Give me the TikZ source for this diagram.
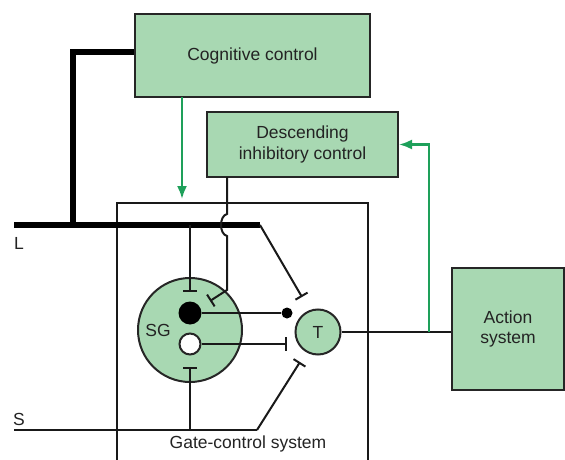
\documentclass[tikz,border=0pt]{standalone}
\usepackage{fontspec}
\setmainfont{Liberation Sans}
\usetikzlibrary{arrows.meta}
\definecolor{boxgreen}{RGB}{168,216,178}
\definecolor{arrgreen}{RGB}{30,160,90}
\definecolor{txt}{RGB}{35,35,35}
\begin{document}
\begin{tikzpicture}[x=1pt,y=-1pt,
  font=\fontsize{17.5}{20.5}\selectfont, text=txt,
  box/.style={draw=black!85, line width=2pt, fill=boxgreen, align=center, inner sep=0pt},
  wire/.style={line width=2pt, draw=black!90},
  inh/.style={-{Bar[width=14pt,line width=2pt]}},
  garrow/.style={draw=arrgreen, line width=2.2pt, -{Latex[length=13pt,width=10pt]}}]
\useasboundingbox (0,0) rectangle (565,460);
\fill[white] (0,0) rectangle (565,460);

% boxes
\node[box, minimum width=235pt, minimum height=83pt] (cog) at (252.5,55.5) {Cognitive control};
\node[box, minimum width=191pt, minimum height=65pt] (desc) at (302.5,144.5) {Descending\\inhibitory control};
\node[box, minimum width=112pt, minimum height=122pt] (act) at (508,329) {Action\\system};

% gate-control box
\coordinate (gbl) at (117,461);
\coordinate (gtl) at (117,203);
\coordinate (gtr) at (368,203);
\coordinate (gbr) at (368,461);
\draw[wire] (gbl) -- (gtl) -- (gtr) -- (gbr);
\node (gatelbl) at (248,444) {Gate-control system};

% circles
\node[circle, draw=black!85, fill=boxgreen, line width=2pt, minimum size=104pt, inner sep=0pt] (sg) at (190,330) {};
\node (sglbl) at (158,330) {SG};
\node[circle, fill=black, minimum size=23pt, inner sep=0pt] (bdot) at (190,313) {};
\node[circle, draw=black!85, fill=white, line width=2pt, minimum size=21pt, inner sep=0pt] (wdot) at (190,344) {};
\node[circle, fill=black, minimum size=11pt, inner sep=0pt] (sdot) at (287,313) {};
\node[circle, draw=black!85, fill=boxgreen, line width=2pt, minimum size=45pt, inner sep=0pt] (t) at (318,332) {T};

% L fibre
\coordinate (Lstart) at (14,225);
\coordinate (Lend) at (260,225);
\coordinate (Lv) at (73,225);
\draw[line width=6.5pt] (Lstart) -- (Lend);
\draw[line width=6.5pt] ([yshift=3.5pt]cog.west) -| (Lv);
\node (Llbl) at (19,243) {L};

% S fibre
\coordinate (Sstart) at (14,430);
\coordinate (Send) at (257,430);
\coordinate (Ssg) at (190,430);
\node (Slbl) at (19,419) {S};
\draw[wire] (Sstart) -- (Send);

% inhibitory connections
\coordinate (Lsg) at (190,225);
\coordinate (barLsg) at (190,292);
\draw[wire, inh] (Lsg) -- (barLsg);
\coordinate (barLt) at (302,297);
\draw[wire, inh] (Lend) -- (barLt);
\coordinate (barSsg) at (190,367);
\draw[wire, inh] (Ssg) -- (barSsg);
\coordinate (barSt) at (300,362);
\draw[wire, inh] (Send) -- (barSt);
\coordinate (barW) at (287,344);
\draw[wire, inh] (wdot) -- (barW);
\draw[wire] (bdot) -- (sdot);

% descending line with hop
\coordinate (d0) at (227,177);
\coordinate (barD) at (210,301);
\draw[wire, inh] (d0) -- (227,214) .. controls (219,216) and (219,234) .. (227,236) -- (227,290) -- (barD);

% T to action
\draw[wire] (t.east) -- (t.east -| act.west);
\coordinate (fb) at (429,332);
\draw[garrow] (fb) |- (desc.east);

% cognitive to gate
\coordinate (cogout) at (182,97);
\coordinate (gatein) at (182,199);
\draw[garrow] (cogout) -- (gatein);
\end{tikzpicture}
\end{document}
